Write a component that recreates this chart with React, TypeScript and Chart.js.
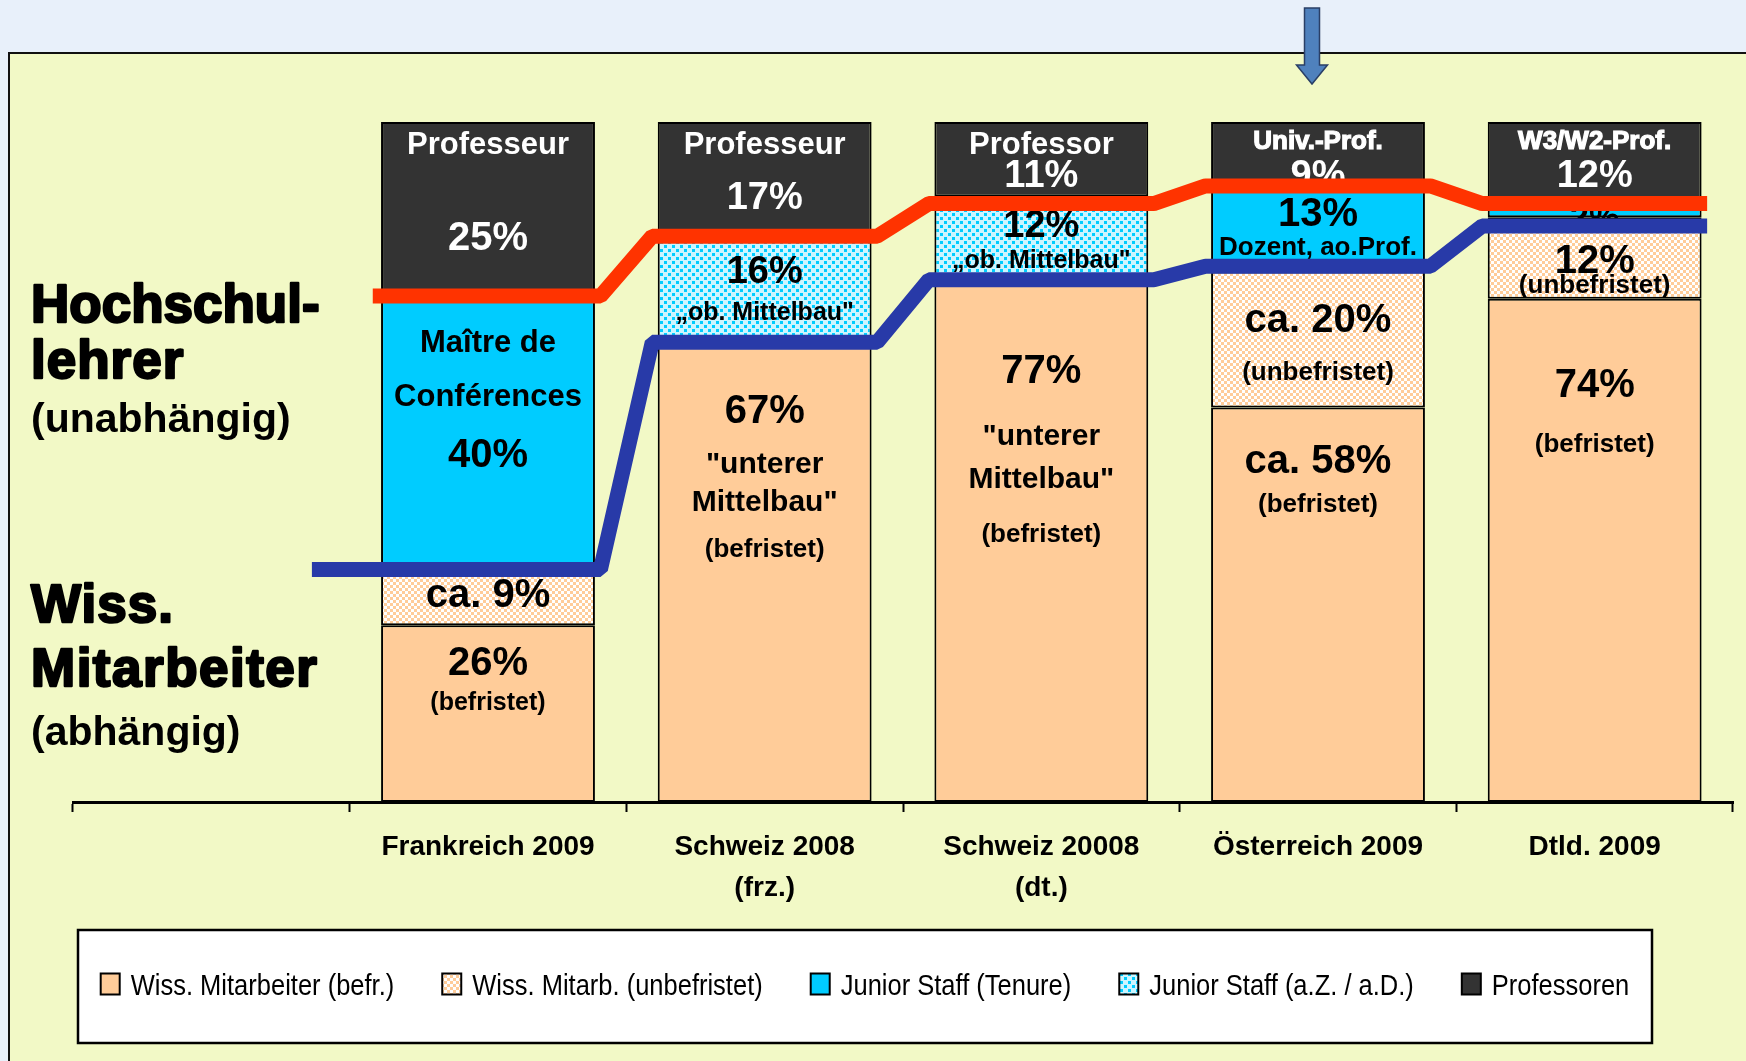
import React, { useEffect, useRef } from 'react';
import { Chart, registerables } from 'chart.js';

Chart.register(...registerables);

// ---------- DATA ----------
const CATEGORIES: string[][] = [
  [''],
  ['Frankreich 2009'],
  ['Schweiz 2008', '(frz.)'],
  ['Schweiz 20008', '(dt.)'],
  ['Österreich 2009'],
  ['Dtld. 2009'],
];

const SERIES_LABELS = [
  'Wiss. Mitarbeiter (befr.)',
  'Wiss. Mitarb. (unbefristet)',
  'Junior Staff (Tenure)',
  'Junior Staff (a.Z. / a.D.)',
  'Professoren',
];

const WISS_BEFR = [null, 26, 67, 77, 58, 74];
const WISS_UNBEF = [null, 9, null, null, 20, 12];
const JUNIOR_TENURE = [null, 40, null, null, 13, 2];
const JUNIOR_AZ = [null, null, 16, 12, null, null];
const PROFESSOREN = [null, 25, 17, 11, 9, 12];

// boundary lines (Hochschullehrer / Wiss. Mitarbeiter), categories 1..5
const LINE_HOCHSCHULLEHRER = [74.4, 83.2, 88, 90.6, 88];
const LINE_MITARBEITER = [34.2, 67.6, 76.8, 78.8, 84.7];

// ---------- STYLE ----------
const FONT = "'Liberation Sans', Arial, sans-serif";
const PEACH = '#ffcc99';
const CYAN = '#00ccff';
const DARK = '#333333';
const RED = '#ff3300';
const BLUE = '#283aa8';
const W = '#ffffff';
const B = '#000000';
const BAR_FRACTION = 0.773;
const HALF = BAR_FRACTION / 2;
const EXT = 0.02;

type Txt = { cat: number; v: number; text: string; size: number; color?: string; heavy?: boolean };
const BAR_TEXTS: Txt[] = [
  { cat: 1, v: 95.3, text: 'Professeur', size: 31, color: W },
  { cat: 1, v: 81.2, text: '25%', size: 40, color: W },
  { cat: 1, v: 66.2, text: 'Maître de', size: 31 },
  { cat: 1, v: 58.2, text: 'Conférences', size: 31 },
  { cat: 1, v: 49.3, text: '40%', size: 40 },
  { cat: 1, v: 28.7, text: 'ca. 9%', size: 40 },
  { cat: 1, v: 18.7, text: '26%', size: 40 },
  { cat: 1, v: 13.5, text: '(befristet)', size: 25 },

  { cat: 2, v: 95.3, text: 'Professeur', size: 31, color: W },
  { cat: 2, v: 87.2, text: '17%', size: 38, color: W },
  { cat: 2, v: 76.3, text: '16%', size: 38 },
  { cat: 2, v: 70.9, text: '„ob. Mittelbau"', size: 25 },
  { cat: 2, v: 55.7, text: '67%', size: 40 },
  { cat: 2, v: 48.4, text: '"unterer', size: 30 },
  { cat: 2, v: 42.8, text: 'Mittelbau"', size: 30 },
  { cat: 2, v: 36.0, text: '(befristet)', size: 26 },

  { cat: 3, v: 95.3, text: 'Professor', size: 31, color: W },
  { cat: 3, v: 90.4, text: '11%', size: 38, color: W },
  { cat: 3, v: 83.1, text: '12%', size: 38 },
  { cat: 3, v: 78.5, text: '„ob. Mittelbau"', size: 25 },
  { cat: 3, v: 61.6, text: '77%', size: 40 },
  { cat: 3, v: 52.5, text: '"unterer', size: 30 },
  { cat: 3, v: 46.2, text: 'Mittelbau"', size: 30 },
  { cat: 3, v: 38.2, text: '(befristet)', size: 26 },

  { cat: 4, v: 96.0, text: 'Univ.-Prof.', size: 26, color: W, heavy: true },
  { cat: 4, v: 90.4, text: '9%', size: 38, color: W },
  { cat: 4, v: 84.7, text: '13%', size: 40 },
  { cat: 4, v: 80.4, text: 'Dozent, ao.Prof.', size: 26 },
  { cat: 4, v: 69.1, text: 'ca. 20%', size: 40 },
  { cat: 4, v: 62.1, text: '(unbefristet)', size: 26 },
  { cat: 4, v: 48.4, text: 'ca. 58%', size: 40 },
  { cat: 4, v: 42.6, text: '(befristet)', size: 26 },

  { cat: 5, v: 96.0, text: 'W3/W2-Prof.', size: 26, color: W, heavy: true },
  { cat: 5, v: 90.4, text: '12%', size: 38, color: W },
  { cat: 5, v: 84.4, text: '2%', size: 34 },
  { cat: 5, v: 77.8, text: '12%', size: 40 },
  { cat: 5, v: 74.9, text: '(unbefristet)', size: 26 },
  { cat: 5, v: 59.6, text: '74%', size: 40 },
  { cat: 5, v: 51.5, text: '(befristet)', size: 26 },
];

const SIDE_TEXTS = [
  { v: 70.6, text: 'Hochschul-', size: 53, heavy: true, spacing: 0 },
  { v: 62.4, text: 'lehrer', size: 53, heavy: true, spacing: 1 },
  { v: 54.4, text: '(unabhängig)', size: 41, heavy: false, spacing: 0 },
  { v: 26.5, text: 'Wiss.', size: 53, heavy: true, spacing: 1 },
  { v: 17.1, text: 'Mitarbeiter', size: 53, heavy: true, spacing: 1.5 },
  { v: 8.4, text: '(abhängig)', size: 41, heavy: false, spacing: 0 },
];

function checkerPattern(): CanvasPattern | string {
  const c = document.createElement('canvas');
  c.width = 6; c.height = 6;
  const g = c.getContext('2d');
  if (!g) return PEACH;
  g.fillStyle = PEACH; g.fillRect(0, 0, 6, 6);
  g.fillStyle = '#ffffff'; g.fillRect(0, 0, 3, 3); g.fillRect(3, 3, 3, 3);
  return g.createPattern(c, 'repeat') || PEACH;
}

function diagPattern(): CanvasPattern | string {
  const c = document.createElement('canvas');
  c.width = 8; c.height = 8;
  const g = c.getContext('2d');
  if (!g) return CYAN;
  g.fillStyle = '#ccf5ff'; g.fillRect(0, 0, 8, 8);
  g.fillStyle = CYAN; g.fillRect(0, 5, 3, 3); g.fillRect(4, 1, 3, 3);
  return g.createPattern(c, 'repeat') || CYAN;
}

function stepPoints(values: number[], lead: number) {
  const pts: { x: number; y: number }[] = [];
  values.forEach((v, k) => {
    const i = k + 1;
    const left = i + 0.5 - HALF - EXT;
    const right = i + 0.5 + HALF + EXT;
    pts.push({ x: k === 0 ? left - lead : left, y: v });
    pts.push({ x: right, y: v });
  });
  return pts;
}

const decorPlugin = {
  id: 'decor',
  beforeDraw(chart: any) {
    const { ctx, width, height } = chart;
    ctx.save();
    ctx.fillStyle = '#e8f0fa';
    ctx.fillRect(0, 0, width, height);
    ctx.fillStyle = '#f2f9c6';
    ctx.fillRect(9, 53, width - 9, height - 53);
    ctx.strokeStyle = '#111';
    ctx.lineWidth = 2;
    ctx.beginPath();
    ctx.moveTo(9, height);
    ctx.lineTo(9, 53);
    ctx.lineTo(width, 53);
    ctx.stroke();
    ctx.restore();
  },
  beforeDatasetDraw(chart: any, args: any) {
    const ds = chart.data.datasets[args.index];
    if (ds.id !== 'red') return;
    const { ctx } = chart;
    const xs = chart.scales.x;
    const ys = chart.scales.y;
    ctx.save();
    ctx.textAlign = 'center';
    ctx.textBaseline = 'alphabetic';
    BAR_TEXTS.forEach((t) => {
      const x = xs.getPixelForValue(t.cat);
      const y = ys.getPixelForValue(t.v);
      ctx.font = `bold ${t.size}px ${FONT}`;
      ctx.fillStyle = t.color || B;
      ctx.fillText(t.text, x, y);
      if (t.heavy) {
        ctx.lineWidth = 1.2;
        ctx.strokeStyle = t.color || B;
        ctx.strokeText(t.text, x, y);
      }
    });
    // side labels
    ctx.textAlign = 'left';
    SIDE_TEXTS.forEach((t) => {
      const x = chart.chartArea.left - 42;
      const y = ys.getPixelForValue(t.v);
      ctx.font = `bold ${t.size}px ${FONT}`;
      (ctx as any).letterSpacing = `${t.spacing}px`;
      ctx.fillStyle = B;
      ctx.fillText(t.text, x, y);
      if (t.heavy) {
        ctx.lineWidth = 2.4;
        ctx.strokeStyle = B;
        ctx.lineJoin = 'round';
        ctx.strokeText(t.text, x, y);
      }
    });
    (ctx as any).letterSpacing = '0px';
    ctx.restore();
  },
  afterDraw(chart: any) {
    const { ctx } = chart;
    const xs = chart.scales.x;
    ctx.save();
    // arrow above Österreich
    const ax = xs.getPixelForValue(4) - 6;
    ctx.fillStyle = '#4f81bd';
    ctx.strokeStyle = '#2a3f66';
    ctx.lineWidth = 1.5;
    ctx.beginPath();
    ctx.moveTo(ax - 7.5, 8);
    ctx.lineTo(ax + 7.5, 8);
    ctx.lineTo(ax + 7.5, 65);
    ctx.lineTo(ax + 15.5, 65);
    ctx.lineTo(ax, 84);
    ctx.lineTo(ax - 15.5, 65);
    ctx.lineTo(ax - 7.5, 65);
    ctx.closePath();
    ctx.fill();
    ctx.stroke();

    // legend
    const bx = 78, by = 930, bw = 1574, bh = 113;
    ctx.fillStyle = '#ffffff';
    ctx.fillRect(bx, by, bw, bh);
    ctx.strokeStyle = '#000';
    ctx.lineWidth = 2.5;
    ctx.strokeRect(bx, by, bw, bh);
    const bars = chart.data.datasets.filter((d: any) => d.type === 'bar');
    const SQ = 0.85; // condensed text
    ctx.font = `30px ${FONT}`;
    const boxW = 19, boxH = 21, gapT = 11, gapI = 48;
    const widths = bars.map((d: any) => ctx.measureText(d.label).width * SQ);
    const total = widths.reduce((a: number, w: number) => a + boxW + gapT + w, 0) + gapI * (bars.length - 1);
    let x = bx + bw / 2 - total / 2;
    const cy = 984;
    bars.forEach((d: any, i: number) => {
      ctx.fillStyle = d.backgroundColor;
      ctx.fillRect(x, cy - boxH / 2, boxW, boxH);
      ctx.strokeStyle = '#000';
      ctx.lineWidth = 2;
      ctx.strokeRect(x, cy - boxH / 2, boxW, boxH);
      ctx.fillStyle = '#000';
      ctx.textAlign = 'left';
      ctx.textBaseline = 'alphabetic';
      const tx = x + boxW + gapT;
      ctx.save();
      ctx.translate(tx, cy + 11);
      ctx.scale(SQ, 1);
      ctx.fillText(d.label, 0, 0);
      ctx.restore();
      x += boxW + gapT + widths[i] + gapI;
    });
    ctx.restore();
  },
};

export default function App() {
  const ref = useRef<HTMLCanvasElement>(null);
  useEffect(() => {
    const canvas = ref.current;
    if (!canvas) return;
    const checker = checkerPattern();
    const diag = diagPattern();
    const barCommon = {
      type: 'bar' as const,
      borderColor: '#000',
      borderWidth: 2,
      borderSkipped: false,
      barPercentage: BAR_FRACTION,
      categoryPercentage: 1,
      grouped: false,
      stack: 'staff',
      order: 2,
      xAxisID: 'x',
      yAxisID: 'y',
    };
    const lineCommon = {
      type: 'line' as const,
      borderWidth: 15,
      pointRadius: 0,
      fill: false,
      tension: 0,
      borderJoinStyle: 'bevel',
      borderCapStyle: 'butt',
      xAxisID: 'xl',
      yAxisID: 'yl',
    };
    const chart = new Chart(canvas, {
      type: 'bar',
      data: {
        labels: CATEGORIES,
        datasets: [
          { ...barCommon, label: SERIES_LABELS[0], data: WISS_BEFR, backgroundColor: PEACH },
          { ...barCommon, label: SERIES_LABELS[1], data: WISS_UNBEF, backgroundColor: checker },
          { ...barCommon, label: SERIES_LABELS[2], data: JUNIOR_TENURE, backgroundColor: CYAN },
          { ...barCommon, label: SERIES_LABELS[3], data: JUNIOR_AZ, backgroundColor: diag },
          { ...barCommon, label: SERIES_LABELS[4], data: PROFESSOREN, backgroundColor: DARK },
          { ...lineCommon, id: 'red', label: 'Hochschullehrer', data: stepPoints(LINE_HOCHSCHULLEHRER, 0.01), borderColor: RED, order: 1 },
          { ...lineCommon, id: 'blue', label: 'Wiss. Mitarbeiter', data: stepPoints(LINE_MITARBEITER, 0.23), borderColor: BLUE, order: 0 },
        ] as any,
      },
      options: {
        responsive: false,
        animation: false,
        devicePixelRatio: 1,
        layout: { padding: { left: 73, right: 13, top: 122, bottom: 0 } },
        plugins: { legend: { display: false }, tooltip: { enabled: false } },
        scales: {
          x: {
            type: 'category',
            stacked: true,
            offset: true,
            grid: { display: true, drawOnChartArea: false, drawTicks: true, tickLength: 10, tickWidth: 2, tickColor: '#000', offset: true },
            border: { display: true, color: '#000', width: 3 },
            ticks: {
              color: '#000', padding: 15, maxRotation: 0, autoSkip: false,
              font: { family: FONT, size: 28, weight: 'bold', lineHeight: 1.47 },
            },
            afterFit: (s: any) => { s.height = 259; },
          },
          xl: { type: 'linear', display: false, min: 0, max: 6, offset: false, grid: { offset: false } },
          y: { stacked: true, display: false, min: 0, max: 100 },
          yl: { display: false, min: 0, max: 100 },
        },
      } as any,
      plugins: [decorPlugin],
    });
    return () => chart.destroy();
  }, []);
  return (
    <div style={{ position: 'fixed', left: 0, top: 0, width: 1746, height: 1061 }}>
      <canvas ref={ref} width={1746} height={1061} style={{ display: 'block', width: 1746, height: 1061 }} />
    </div>
  );
}
